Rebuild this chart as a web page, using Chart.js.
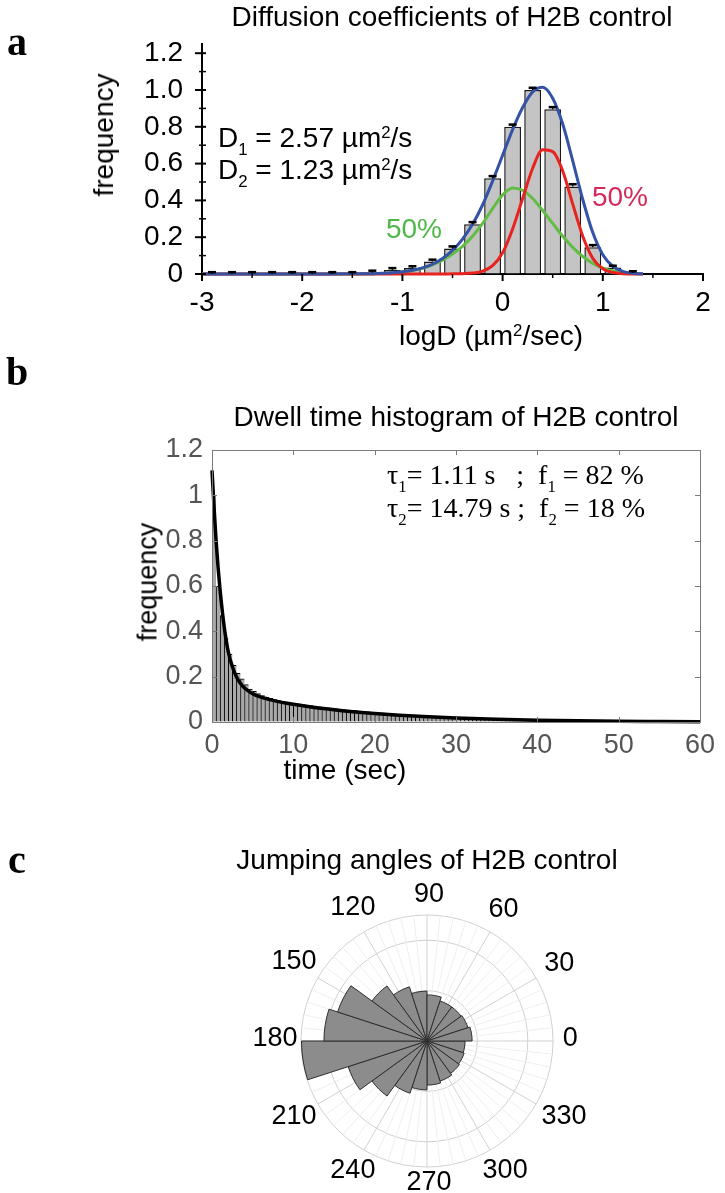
<!DOCTYPE html>
<html><head><meta charset="utf-8">
<script src="https://cdn.jsdelivr.net/npm/chart.js@4.4.1/dist/chart.umd.min.js"></script>
<style>
html,body{margin:0;padding:0;background:#fff;}
body{width:725px;height:1193px;position:relative;overflow:hidden;font-family:"Liberation Sans",Arial,sans-serif;}
canvas{position:absolute;left:0;}
.t{position:absolute;white-space:pre;line-height:1;color:#000;font-size:28px;}
.c{transform:translate(-50%,-50%);}
.l{transform:translateY(-50%);}
.rot{transform:translate(-50%,-50%) rotate(-90deg);}
.lett{position:absolute;font-family:"Liberation Serif","Times New Roman",serif;font-weight:bold;font-size:40px;line-height:1;transform:translate(-50%,-50%);}
.serif{font-family:"Liberation Serif","Times New Roman",serif;}
.sb{font-size:0.6em;position:relative;top:0.45em;}
.sp{font-size:0.6em;position:relative;top:-0.55em;}
</style></head><body>
<canvas id="ca" width="725" height="360" style="top:0"></canvas>
<canvas id="cb" width="725" height="440" style="top:360px"></canvas>
<canvas id="cc" width="725" height="393" style="top:800px"></canvas>

<div class="lett" style="left:17px;top:42px">a</div>
<div class="lett" style="left:17px;top:372px">b</div>
<div class="lett" style="left:17px;top:860px">c</div>

<div class="t c" style="left:452px;top:17px">Diffusion coefficients of H2B control</div>
<div class="t rot" style="left:104px;top:135px">frequency</div>
<div class="t c" style="left:491px;top:336px">logD (µm<span class="sp">2</span>/sec)</div>
<div class="t l" style="left:218px;top:138px">D<span class="sb">1</span> = 2.57 µm<span class="sp">2</span>/s</div>
<div class="t l" style="left:218px;top:170px">D<span class="sb">2</span> = 1.23 µm<span class="sp">2</span>/s</div>
<div class="t c" style="left:414px;top:229px;color:#4db848">50%</div>
<div class="t c" style="left:620px;top:197px;color:#d42a5b">50%</div>

<div class="t c" style="left:456px;top:417px">Dwell time histogram of H2B control</div>
<div class="t rot" style="left:148px;top:582px;font-size:27px">frequency</div>
<div class="t c" style="left:345px;top:770px">time (sec)</div>
<div class="t l serif" style="left:387px;top:475px">τ<span class="sb">1</span>= 1.11 s   ;  f<span class="sb">1</span> = 82 %</div>
<div class="t l serif" style="left:387px;top:508px">τ<span class="sb">2</span>= 14.79 s ;  f<span class="sb">2</span> = 18 %</div>

<div class="t c" style="left:427px;top:860px">Jumping angles of H2B control</div>

<script>
// ---------- Panel a: diffusion coefficient histogram ----------
const diffBinCenters = [-2.9,-2.7,-2.5,-2.3,-2.1,-1.9,-1.7,-1.5,-1.3,-1.1,-0.9,-0.7,-0.5,-0.3,-0.1,0.1,0.3,0.5,0.7,0.9,1.1,1.3];
const diffFreq       = [0,0,0,0,0,0,0,0,0.008,0.022,0.032,0.068,0.138,0.27,0.52,0.80,1.00,0.895,0.476,0.145,0.035,0.005];
const diffErr        = [0.01,0.01,0.01,0.01,0.01,0.01,0.01,0.01,0.01,0.01,0.01,0.01,0.012,0.012,0.012,0.012,0.012,0.012,0.012,0.012,0.01,0.01];
const fitX     = [-3.0,-2.5,-2.0,-1.5,-1.4,-1.3,-1.2,-1.1,-1.0,-0.9,-0.8,-0.7,-0.6,-0.5,-0.4,-0.3,-0.2,-0.1,0.0,0.1,0.2,0.3,0.4,0.5,0.6,0.7,0.8,0.9,1.0,1.1,1.2,1.3,1.4];
const fitTotal = [0,0,0,0.001,0.001,0.002,0.004,0.007,0.012,0.02,0.033,0.053,0.084,0.128,0.19,0.27,0.375,0.505,0.645,0.785,0.905,0.99,1.015,0.955,0.815,0.615,0.405,0.225,0.105,0.042,0.014,0.004,0.001];
const fitSlow  = [0,0,0,0,0.001,0.002,0.003,0.006,0.011,0.019,0.031,0.049,0.075,0.108,0.15,0.205,0.275,0.355,0.43,0.468,0.455,0.41,0.345,0.275,0.205,0.145,0.095,0.058,0.032,0.016,0.007,0.003,0.001];
const fitFast  = [0,0,0,0,0,0,0,0,0,0,0,0,0,0.001,0.002,0.005,0.015,0.045,0.115,0.245,0.41,0.575,0.675,0.665,0.56,0.38,0.205,0.085,0.028,0.008,0.002,0,0];
const diffXTicks = [-3,-2,-1,0,1,2];

// ---------- Panel b: dwell time histogram ----------
const dwellTimes = [
0.25,0.75,1.25,1.75,2.25,2.75,3.25,3.75,4.25,4.75,
5.25,5.75,6.25,6.75,7.25,7.75,8.25,8.75,9.25,9.75,
10.25,10.75,11.25,11.75,12.25,12.75,13.25,13.75,14.25,14.75,
15.25,15.75,16.25,16.75,17.25,17.75,18.25,18.75,19.25,19.75,
20.25,20.75,21.25,21.75,22.25,22.75,23.25,23.75,24.25,24.75,
25.25,25.75,26.25,26.75,27.25,27.75,28.25,28.75,29.25,29.75,
30.25,30.75,31.25,31.75,32.25,32.75,33.25,33.75,34.25,34.75,
35.25,35.75,36.25,36.75,37.25,37.75,38.25,38.75,39.25,39.75,
40.25,40.75,41.25,41.75,42.25,42.75,43.25,43.75,44.25,44.75,
45.25,45.75,46.25,46.75,47.25,47.75,48.25,48.75,49.25,49.75,
50.25,50.75,51.25,51.75,52.25,52.75,53.25,53.75,54.25,54.75,
55.25,55.75,56.25,56.75,57.25,57.75,58.25,58.75,59.25,59.75];
const dwellFreq = [
1.00,0.60,0.47,0.37,0.30,0.25,0.215,0.19,0.165,0.145,
0.135,0.125,0.117,0.110,0.104,0.099,0.095,0.091,0.088,0.085,
0.082,0.079,0.077,0.074,0.072,0.070,0.067,0.065,0.063,0.061,
0.059,0.057,0.055,0.053,0.051,0.050,0.048,0.046,0.045,0.043,
0.042,0.040,0.039,0.037,0.036,0.035,0.033,0.032,0.031,0.030,
0.029,0.028,0.027,0.026,0.025,0.024,0.023,0.022,0.021,0.020,
0.019,0.018,0.018,0.017,0.016,0.015,0.015,0.014,0.013,0.013,
0.012,0.011,0.011,0.010,0.010,0.009,0.009,0.008,0.008,0.007,
0.007,0.006,0.006,0.006,0.005,0.005,0.005,0.004,0.004,0.004,
0.004,0.003,0.003,0.003,0.003,0.003,0.002,0.002,0.002,0.002,
0.002,0.002,0.002,0.001,0.001,0.001,0.001,0.001,0.001,0.001,
0.001,0.001,0.001,0.001,0.001,0.001,0.001,0.001,0.001,0.001];
const dwellFitT = [0,0.25,0.5,0.75,1,1.5,2,2.5,3,3.5,4,5,6,7,8,10,12,14,16,18,20,23,26,30,35,40,45,50,55,60];
const dwellFitY = [1.11,0.95,0.80,0.68,0.58,0.42,0.31,0.245,0.2,0.17,0.15,0.125,0.11,0.1,0.091,0.078,0.067,0.058,0.05,0.043,0.037,0.03,0.024,0.018,0.012,0.008,0.005,0.003,0.002,0.001];

// ---------- Panel c: jumping angles rose (bins counter-clockwise from 0 deg) ----------
const angleBinStart = [0,18,36,54,72,90,108,126,144,162,180,198,216,234,252,270,288,306,324,342];
const angleCounts   = [1.79,1.71,1.67,1.67,1.83,1.98,2.26,2.70,3.73,4.09,4.98,3.29,2.70,2.18,1.94,1.75,1.67,1.59,1.55,1.51];
const angleTickLabels = [0,30,60,90,120,150,180,210,240,270,300,330];

Chart.defaults.font.family = '"Liberation Sans", Arial, sans-serif';
Chart.defaults.color = '#000';

// ---------- chart A ----------
const axesA = {
  id: 'axesA',
  afterDatasetsDraw(chart) {
    const ctx = chart.ctx, ys = chart.scales.y;
    const meta = chart.getDatasetMeta(3);
    ctx.save();
    ctx.strokeStyle = '#000';
    meta.data.forEach((bar, i) => {
      const yTop = ys.getPixelForValue(diffFreq[i] + diffErr[i]);
      const yBar = ys.getPixelForValue(diffFreq[i]);
      ctx.lineWidth = 1.5;
      ctx.beginPath(); ctx.moveTo(bar.x, yBar); ctx.lineTo(bar.x, yTop); ctx.stroke();
      ctx.lineWidth = 2.5;
      ctx.beginPath(); ctx.moveTo(bar.x - 4, yTop); ctx.lineTo(bar.x + 4, yTop); ctx.stroke();
    });
    ctx.restore();
  },
  afterDraw(chart) {
    const ctx = chart.ctx, xs = chart.scales.x, ys = chart.scales.y, a = chart.chartArea;
    ctx.save();
    ctx.strokeStyle = '#000';
    for (let k = 0; k <= 12; k++) {
      const y = ys.getPixelForValue(k / 10);
      const major = k % 2 === 0;
      ctx.lineWidth = major ? 2 : 1.5;
      ctx.beginPath();
      ctx.moveTo(a.left - (major ? 7 : 3), y); ctx.lineTo(a.left + 4, y); ctx.stroke();
    }
    for (let k = -6; k <= 4; k++) {
      const x = xs.getPixelForValue(k / 2);
      const major = k % 2 === 0;
      ctx.lineWidth = major ? 2 : 1.5;
      ctx.beginPath();
      ctx.moveTo(x, a.bottom); ctx.lineTo(x, a.bottom + (major ? 7 : 4)); ctx.stroke();
    }
    ctx.restore();
  }
};

const lineStyle = { type: 'line', borderWidth: 3, pointRadius: 0, cubicInterpolationMode: 'monotone', clip: 8, fill: false };
new Chart(document.getElementById('ca'), {
  type: 'bar',
  data: {
    datasets: [
      Object.assign({}, lineStyle, { label: 'sum', data: fitX.map((x, i) => ({ x, y: fitTotal[i] })), borderColor: '#3452a6', order: 1 }),
      Object.assign({}, lineStyle, { label: 'D1', data: fitX.map((x, i) => ({ x, y: fitFast[i] })), borderColor: '#e8231f', order: 2 }),
      Object.assign({}, lineStyle, { label: 'D2', data: fitX.map((x, i) => ({ x, y: fitSlow[i] })), borderColor: '#62bd45', order: 3 }),
      { type: 'bar', label: 'frequency', data: diffBinCenters.map((x, i) => ({ x, y: diffFreq[i] })),
        backgroundColor: '#c4c4c4', borderColor: '#1a1a1a', borderWidth: 1.5, barPercentage: 0.84, categoryPercentage: 1, order: 4 }
    ]
  },
  options: {
    responsive: false, animation: false,
    layout: { padding: { top: 44, right: 22, left: 0, bottom: 0 } },
    plugins: { legend: { display: false }, tooltip: { enabled: false } },
    scales: {
      x: { type: 'linear', min: -3, max: 2, offset: false,
        grid: { display: true, drawOnChartArea: false, drawTicks: false, offset: false },
        border: { display: true, color: '#000', width: 2 },
        afterBuildTicks: s => { s.ticks = diffXTicks.map(v => ({ value: v })); },
        ticks: { padding: 12, color: '#000', font: { size: 28 }, callback: v => String(v) },
        afterFit: s => { s.height = 86; } },
      y: { type: 'linear', min: 0, max: 1.25,
        grid: { display: true, drawOnChartArea: false, drawTicks: false },
        border: { display: true, color: '#000', width: 2 },
        ticks: { stepSize: 0.2, includeBounds: false, padding: 19, color: '#000', font: { size: 28 },
          callback: v => (Math.abs(v) < 1e-9 ? '0' : v.toFixed(1)) },
        afterFit: s => { s.width = 202; } }
    }
  },
  plugins: [axesA]
});

// ---------- chart B ----------
const frameB = {
  id: 'frameB',
  afterDatasetsDraw(chart) {
    const ctx = chart.ctx, xs = chart.scales.x, ys = chart.scales.y, a = chart.chartArea;
    ctx.save();
    ctx.strokeStyle = '#7a7a7a'; ctx.lineWidth = 1;
    ctx.strokeRect(Math.round(a.left) + 0.5, Math.round(a.top) + 0.5, Math.round(a.right - a.left), Math.round(a.bottom - a.top));
    ys.ticks.forEach(t => {
      const y = Math.round(ys.getPixelForValue(t.value)) + 0.5;
      ctx.beginPath(); ctx.moveTo(a.left, y); ctx.lineTo(a.left + 5, y); ctx.stroke();
      ctx.beginPath(); ctx.moveTo(a.right, y); ctx.lineTo(a.right - 5, y); ctx.stroke();
    });
    xs.ticks.forEach(t => {
      const x = Math.round(xs.getPixelForValue(t.value)) + 0.5;
      ctx.beginPath(); ctx.moveTo(x, a.top); ctx.lineTo(x, a.top + 5); ctx.stroke();
      ctx.beginPath(); ctx.moveTo(x, a.bottom); ctx.lineTo(x, a.bottom - 5); ctx.stroke();
    });
    ctx.restore();
  }
};
new Chart(document.getElementById('cb'), {
  type: 'bar',
  data: {
    datasets: [
      { type: 'line', label: 'fit', data: dwellFitT.map((x, i) => ({ x, y: dwellFitY[i] })), borderColor: '#000', borderWidth: 3.5,
        pointRadius: 0, cubicInterpolationMode: 'monotone', clip: 4, order: 1 },
      { type: 'bar', label: 'frequency', data: dwellTimes.map((x, i) => ({ x, y: dwellFreq[i] })),
        backgroundColor: '#a9a9a9', borderColor: '#000', borderWidth: { left: 1, right: 0, top: 1, bottom: 0 }, borderSkipped: false,
        barPercentage: 1, categoryPercentage: 1, order: 2 }
    ]
  },
  options: {
    responsive: false, animation: false,
    layout: { padding: { top: 90, right: 25, left: 0, bottom: 0 } },
    plugins: { legend: { display: false }, tooltip: { enabled: false } },
    scales: {
      x: { type: 'linear', min: 0, max: 60, offset: false,
        grid: { display: true, drawOnChartArea: false, drawTicks: false, offset: false },
        border: { display: false },
        ticks: { stepSize: 10, padding: 7, color: '#555', font: { size: 27 } },
        afterFit: s => { s.height = 78; } },
      y: { type: 'linear', min: 0, max: 1.2,
        grid: { display: true, drawOnChartArea: false, drawTicks: false },
        border: { display: false },
        ticks: { stepSize: 0.2, padding: 9, color: '#555', font: { size: 27 },
          callback: v => String(parseFloat(v.toFixed(1))) },
        afterFit: s => { s.width = 212; } }
    }
  },
  plugins: [frameB]
});

// ---------- chart C ----------
const polarDeco = {
  id: 'polarDeco',
  beforeDatasetsDraw(chart) {
    const ctx = chart.ctx, r = chart.scales.r;
    const cx = r.xCenter, cy = r.yCenter, R = r.drawingArea;
    ctx.save();
    for (let d = 0; d < 360; d += 6) {
      const th = d * Math.PI / 180;
      ctx.strokeStyle = d % 30 === 0 ? '#d2d2d2' : '#efefef';
      ctx.lineWidth = 1;
      ctx.beginPath(); ctx.moveTo(cx, cy); ctx.lineTo(cx + R * Math.cos(th), cy - R * Math.sin(th)); ctx.stroke();
    }
    ctx.restore();
  },
  afterDraw(chart) {
    const ctx = chart.ctx, r = chart.scales.r;
    const cx = r.xCenter, cy = r.yCenter, R = r.drawingArea;
    ctx.save();
    ctx.fillStyle = '#000';
    ctx.font = '27px "Liberation Sans", Arial, sans-serif';
    ctx.textAlign = 'center'; ctx.textBaseline = 'middle';
    angleTickLabels.forEach(d => {
      const th = d * Math.PI / 180;
      const w = ctx.measureText(String(d)).width;
      const rl = R + 9 + 0.42 * w * Math.abs(Math.cos(th)) + 9 * Math.abs(Math.sin(th));
      ctx.fillText(String(d), cx + 2 + rl * Math.cos(th), cy - 2 - rl * Math.sin(th));
    });
    ctx.restore();
  }
};
// Chart.js draws clockwise from 3 o'clock: feed bins in clockwise order
const roseLabels = angleBinStart.slice().reverse().map(String);
const roseValues = angleCounts.slice().reverse();
new Chart(document.getElementById('cc'), {
  type: 'polarArea',
  data: { labels: roseLabels, datasets: [{ label: 'angles', data: roseValues, backgroundColor: '#8c8c8c', borderColor: '#2e2e2e', borderWidth: 1 }] },
  options: {
    responsive: false, animation: false,
    layout: { padding: { left: 301, right: 172, top: 115, bottom: 26 } },
    plugins: { legend: { display: false }, tooltip: { enabled: false } },
    scales: { r: { min: 0, max: 5, startAngle: 90,
      ticks: { display: false, stepSize: 2 },
      grid: { color: '#d0d0d0', lineWidth: 1 },
      angleLines: { display: false }, pointLabels: { display: false } } }
  },
  plugins: [polarDeco]
});
</script>
</body></html>
